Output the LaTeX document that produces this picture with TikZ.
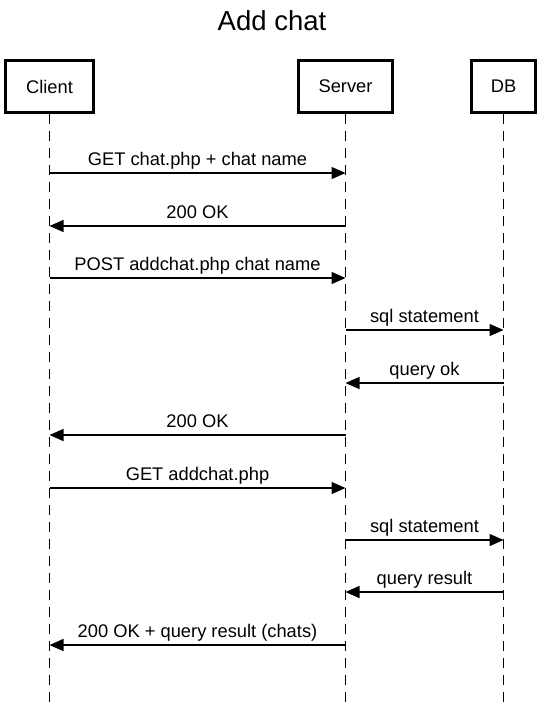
\documentclass[tikz,border=0pt]{standalone}
\usepackage{fontspec}
\setmainfont{Liberation Sans}
\usetikzlibrary{arrows.meta}
\begin{document}
\begin{tikzpicture}[x=1pt,y=-1pt,
  actor/.style={draw,line width=2.6pt,minimum height=52pt,inner sep=0pt,font=\fontsize{18.3}{21}\selectfont},
  life/.style={line width=1.5pt,dash pattern=on 10pt off 7pt},
  msg/.style={line width=1.4pt,-{Triangle[length=14pt,width=12pt]}},
  lbl/.style={anchor=base,yshift=8pt,inner sep=0pt,font=\fontsize{18.3}{21}\selectfont}]
\useasboundingbox (0,0) rectangle (544,706);
\node[anchor=base,font=\fontsize{27.5}{31}\selectfont] (title) at (272,31) {Add chat};
\node[actor,minimum width=88pt] (client) at (49.5,86.5) {Client};
\node[actor,minimum width=94pt] (server) at (345.5,86.5) {Server};
\node[actor,minimum width=64pt] (db) at (503.5,86.5) {DB};
\coordinate (bottom) at (0,706);
\draw[life] (client.south) -- (client.south |- bottom);
\draw[life] (server.south) -- (server.south |- bottom);
\draw[life] (db.south) -- (db.south |- bottom);
% message rows
\foreach \n/\y in {1/173,2/226,3/278,4/330,5/383,6/435,7/488,8/540,9/592,10/645}{
  \coordinate (c\n) at (49.5,\y);
  \coordinate (s\n) at (345.5,\y);
  \coordinate (d\n) at (503.5,\y);
}
\draw[msg] (c1) -- node[lbl] {GET chat.php + chat name} (s1);
\draw[msg] (s2) -- node[lbl] {200 OK} (c2);
\draw[msg] (c3) -- node[lbl] {POST addchat.php chat name} (s3);
\draw[msg] (s4) -- node[lbl] {sql statement} (d4);
\draw[msg] (d5) -- node[lbl] {query ok} (s5);
\draw[msg] (s6) -- node[lbl] {200 OK} (c6);
\draw[msg] (c7) -- node[lbl] {GET addchat.php} (s7);
\draw[msg] (s8) -- node[lbl] {sql statement} (d8);
\draw[msg] (d9) -- node[lbl] {query result} (s9);
\draw[msg] (s10) -- node[lbl] {200 OK + query result (chats)} (c10);
\end{tikzpicture}
\end{document}
